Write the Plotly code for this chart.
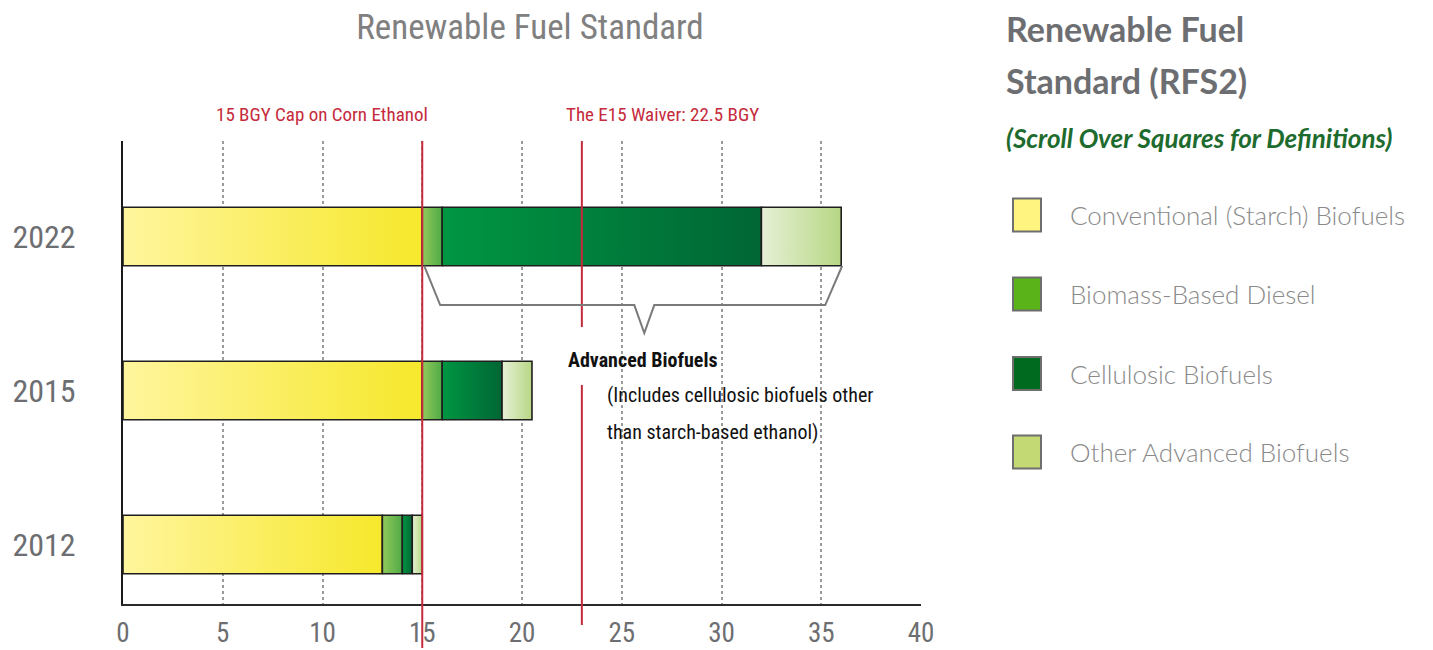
import plotly.graph_objects as go

# ---------------- data ----------------
years = ["2012", "2015", "2022"]
categories = ["Conventional (Starch) Biofuels", "Biomass-Based Diesel",
              "Cellulosic Biofuels", "Other Advanced Biofuels"]
conventional = [13.0, 15.0, 15.0]
biomass_diesel = [1.0, 1.0, 1.0]
cellulosic = [0.5, 3.0, 16.0]
other_advanced = [0.5, 1.5, 4.0]
x_ticks = [0, 5, 10, 15, 20, 25, 30, 35, 40]
corn_cap = 15.0          # "15 BGY Cap on Corn Ethanol"
e15_waiver = 23.0        # line position as drawn ("The E15 Waiver: 22.5 BGY")

series = [conventional, biomass_diesel, cellulosic, other_advanced]

# ---------------- styles ----------------
grad = [["#FFF59D", "#F6E82B"],
        ["#93C95A", "#4FAA46"],
        ["#009642", "#006635"],
        ["#E6F0D6", "#B7D784"]]
legend_fill = ["#FFF47F", "#5BB31A", "#006A1E", "#C2D974"]
COND = "Liberation Sans Narrow, Roboto Condensed, DejaVu Sans Condensed, Arial Narrow, sans-serif"
RED = "#C52B3C"
GRAY = "#6D6E71"

W, H = 1433, 650
OFF = 8                      # page body margin
L, R, T, B = 123, 921, 141, 604   # target page pixels of the plot area
half = 0.19


def px(x):
    return (x - L) / (R - L)


def py(y):
    return (B - y) / (B - T)


fig = go.Figure()
for yi, yr in enumerate(years):
    start = 0.0
    for ci, vals in enumerate(series):
        v = vals[yi]
        x0, x1 = start, start + v
        fig.add_trace(go.Scatter(
            x=[x0, x1, x1, x0, x0],
            y=[yi - half, yi - half, yi + half, yi + half, yi - half],
            mode="lines", fill="toself",
            fillgradient=dict(type="horizontal",
                              colorscale=[[0, grad[ci][0]], [1, grad[ci][1]]]),
            line=dict(color="#1E1E1E", width=1.6),
            name=categories[ci], showlegend=False,
            hoverinfo="text", text=f"{yr} – {categories[ci]}: {v} BGY",
        ))
        start = x1

shapes = []
# red reference lines
shapes.append(dict(type="line", xref="x", yref="paper", x0=corn_cap, x1=corn_cap,
                   y0=py(648), y1=1.0, line=dict(color=RED, width=2), layer="above"))
shapes.append(dict(type="line", xref="x", yref="paper", x0=e15_waiver, x1=e15_waiver,
                   y0=py(327), y1=1.0, line=dict(color=RED, width=2), layer="above"))
shapes.append(dict(type="line", xref="x", yref="paper", x0=e15_waiver, x1=e15_waiver,
                   y0=py(625), y1=py(385), line=dict(color=RED, width=2), layer="above"))

# brace under the 2022 advanced biofuels
b_start = conventional[2]
b_end = conventional[2] + biomass_diesel[2] + cellulosic[2] + other_advanced[2]
b_tip = b_start + 0.53 * (b_end - b_start)
yb = 2 - half
yh = 1.555
yt = 1.373
path = (f"M {b_start + 0.1} {yb} L {b_start + 0.9} {yh} L {b_tip - 0.5} {yh} "
        f"L {b_tip} {yt} L {b_tip + 0.5} {yh} L {b_end - 0.8} {yh} L {b_end + 0.05} {yb}")
shapes.append(dict(type="path", xref="x", yref="y", path=path,
                   line=dict(color="#7A7A7A", width=2), layer="above"))

# legend squares
leg_y = [215, 294, 373.5, 452]
for i, yc in enumerate(leg_y):
    shapes.append(dict(type="rect", xref="paper", yref="paper",
                       x0=px(1013), x1=px(1041), y0=py(yc + 16.5), y1=py(yc - 16.5),
                       fillcolor=legend_fill[i], line=dict(color="#6E6E6E", width=2)))

annotations = []
annotations.append(dict(text="15 BGY Cap on Corn Ethanol", x=corn_cap, xref="x",
                        y=py(114), yref="paper", xanchor="right", yanchor="middle",
                        xshift=8, showarrow=False,
                        font=dict(family=COND, size=19, color=RED)))
annotations.append(dict(text="The E15 Waiver: 22.5 BGY", x=e15_waiver, xref="x",
                        y=py(114), yref="paper", xanchor="left", yanchor="middle",
                        xshift=-18, showarrow=False,
                        font=dict(family=COND, size=19, color=RED)))
annotations.append(dict(text="<b>Advanced Biofuels</b>", x=px(566), xref="paper",
                        y=py(360), yref="paper", xanchor="left", yanchor="middle",
                        showarrow=False, font=dict(family=COND, size=20, color="#111")))
annotations.append(dict(text="(Includes cellulosic biofuels other", x=px(605), xref="paper",
                        y=py(395), yref="paper", xanchor="left", yanchor="middle",
                        showarrow=False, font=dict(family=COND, size=20, color="#111")))
annotations.append(dict(text="than starch-based ethanol)", x=px(605), xref="paper",
                        y=py(432), yref="paper", xanchor="left", yanchor="middle",
                        showarrow=False, font=dict(family=COND, size=20, color="#111")))

# right panel
annotations.append(dict(text="<b>Renewable Fuel</b>", x=px(1004), xref="paper",
                        y=py(28), yref="paper", xanchor="left", yanchor="middle",
                        showarrow=False, font=dict(family="Lato", size=34, color=GRAY)))
annotations.append(dict(text="<b>Standard (RFS2)</b>", x=px(1004), xref="paper",
                        y=py(80), yref="paper", xanchor="left", yanchor="middle",
                        showarrow=False, font=dict(family="Lato", size=34, color=GRAY)))
annotations.append(dict(text="<b><i>(Scroll Over Squares for Definitions)</i></b>", x=px(1004),
                        xref="paper", y=py(138), yref="paper", xanchor="left",
                        yanchor="middle", showarrow=False,
                        font=dict(family="Lato", size=26, color="#1E6B2E")))
for i, yc in enumerate(leg_y):
    annotations.append(dict(text=categories[i], x=px(1068), xref="paper",
                            y=py(yc), yref="paper", xanchor="left", yanchor="middle",
                            showarrow=False,
                            font=dict(family="Lato", size=26, color="#8A8A8A", weight=300)))

fig.update_layout(
    width=W, height=H,
    margin=dict(l=L - OFF, r=W - (R - OFF), t=T - OFF, b=H - (B - OFF), pad=0,
                autoexpand=False),
    paper_bgcolor="white", plot_bgcolor="white",
    showlegend=False,
    title=dict(text="Renewable Fuel Standard", x=(530 - OFF) / W, xanchor="center",
               xref="container", y=1 - (27 - OFF) / H, yanchor="middle", automargin=False,
               font=dict(family=COND, size=35, color="#808080")),
    xaxis=dict(range=[0, 40], tickvals=x_ticks, ticktext=[str(t) for t in x_ticks],
               showgrid=True, gridcolor="#9A9A9A", griddash="dot", gridwidth=1.5,
               zeroline=False, showline=True, linecolor="#2A2A2A", linewidth=2,
               ticks="", ticklabelstandoff=4, automargin=False,
               tickfont=dict(family=COND, size=27, color=GRAY), fixedrange=True),
    yaxis=dict(range=[-0.386, 2.620], tickvals=[0, 1, 2], ticktext=years,
               showgrid=False, zeroline=False, showline=True, linecolor="#1A1A1A",
               linewidth=2, ticks="", ticklabelstandoff=39, automargin=False,
               tickfont=dict(family=COND, size=32, color=GRAY), fixedrange=True),
    shapes=shapes, annotations=annotations,
)

fig.write_html("out.html")
